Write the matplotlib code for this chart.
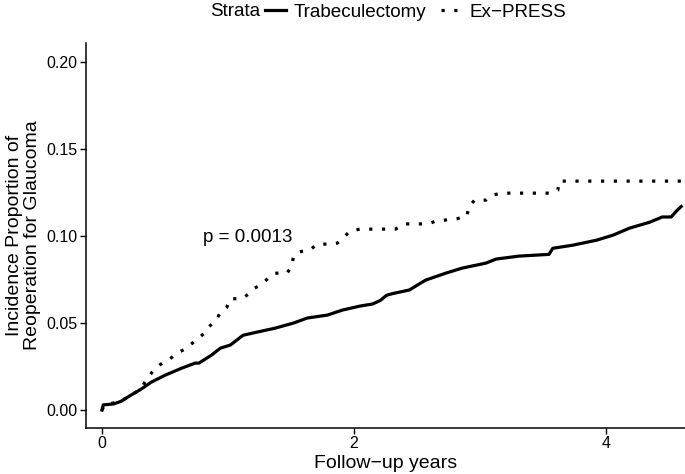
import matplotlib
matplotlib.use("Agg")
import matplotlib.pyplot as plt

plt.rcParams['font.family'] = ['Liberation Sans', 'DejaVu Sans']

# cumulative incidence, vertices
trab_t = [0, 0.01, 0.09, 0.15, 0.23, 0.31, 0.39, 0.5, 0.63, 0.74,
          0.77, 0.87, 0.94, 1.02, 1.12, 1.23, 1.37, 1.52, 1.63, 1.79,
          1.91, 2.05, 2.15, 2.21, 2.26, 2.31, 2.44, 2.57, 2.73, 2.86,
          3.05, 3.13, 3.31, 3.55, 3.58, 3.74, 3.93, 4.06, 4.19, 4.35,
          4.45, 4.52, 4.57, 4.6]
trab_y = [0, 0.003, 0.0035, 0.005, 0.0086, 0.012, 0.016, 0.020, 0.024, 0.027,
          0.027, 0.0316, 0.0356, 0.0374, 0.043, 0.0448, 0.047, 0.050, 0.0529, 0.0546,
          0.0575, 0.0598, 0.061, 0.063, 0.066, 0.067, 0.069, 0.0747, 0.0787, 0.0816,
          0.0845, 0.0868, 0.0885, 0.0895, 0.093, 0.0948, 0.0977, 0.1006, 0.1046, 0.108,
          0.111, 0.111, 0.115, 0.117]

expr_t = [0, 0.02, 0.15, 0.23, 0.31, 0.34, 0.42, 0.48, 0.55, 0.6,
          0.66, 0.71, 0.76, 0.81, 0.85, 0.9, 0.94, 0.99, 1.02, 1.11,
          1.17, 1.21, 1.27, 1.32, 1.37, 1.47, 1.51, 1.52, 1.57, 1.65,
          1.71, 1.83, 1.87, 1.93, 1.97, 2.05, 2.33, 2.4, 2.59, 2.65,
          2.82, 2.9, 2.91, 2.96, 3.05, 3.1, 3.18, 3.56, 3.62, 3.63,
          4.6]
expr_y = [0, 0.003, 0.005, 0.0086, 0.012, 0.016, 0.024, 0.027, 0.030, 0.033,
          0.035, 0.038, 0.041, 0.044, 0.048, 0.051, 0.056, 0.059, 0.064, 0.064,
          0.067, 0.070, 0.0724, 0.0758, 0.0787, 0.0787, 0.083, 0.0885, 0.091, 0.092,
          0.0954, 0.0954, 0.096, 0.100, 0.103, 0.104, 0.104, 0.107, 0.107, 0.1086,
          0.110, 0.1115, 0.1167, 0.1207, 0.1207, 0.1236, 0.1247, 0.1247, 0.1264, 0.1316,
          0.1316]

strata = ["Trabeculectomy", "Ex\u2212PRESS"]
x_ticks = [0, 2, 4]
y_ticks = [0.00, 0.05, 0.10, 0.15, 0.20]
p_text = "p = 0.0013"

fig = plt.figure(figsize=(6.85, 4.74), dpi=100)
ax = fig.add_axes([86 / 685, 1 - 428 / 474, 599 / 685, 385 / 474])

l1, = ax.plot(trab_t, trab_y, color="black", lw=2.3,
              solid_joinstyle="round", label=strata[0])
l2, = ax.plot(expr_t, expr_y, color="black", lw=2.3,
              linestyle=(0, (1, 3)), dash_capstyle="butt", label=strata[1])

ax.text(0.8, 0.099, p_text, fontsize=13.6, va="center", ha="left")

ax.set_xlim(-0.127, 4.63)
ax.set_ylim(-0.0103, 0.211)
ax.set_xticks(x_ticks)
ax.set_yticks(y_ticks)
ax.set_xticklabels([str(v) for v in x_ticks])
ax.set_yticklabels(["%.2f" % v for v in y_ticks])
ax.tick_params(axis="both", direction="out", length=4, width=1, color="black",
               labelsize=11.5, labelcolor="black", pad=2)

for s in ["top", "right"]:
    ax.spines[s].set_visible(False)
for s in ["left", "bottom"]:
    ax.spines[s].set_linewidth(1.1)
    ax.spines[s].set_color("black")

ax.set_xlabel("Follow\u2212up years", fontsize=14, labelpad=3)
ax.set_ylabel("Incidence Proportion of\nReoperation for Glaucoma", fontsize=14,
              labelpad=4, linespacing=1.1)

# legend on top
fig.text(210 / 685, 1 - 12 / 474, "Strata", fontsize=13.6, va="center", ha="left")
fig.legend(handles=[l1, l2], loc="center left", bbox_to_anchor=(265 / 685, 1 - 12 / 474),
           ncol=2, frameon=False, fontsize=13.6, handlelength=1.1, handletextpad=0.4,
           columnspacing=0.8, borderpad=0, borderaxespad=0)

fig.savefig("out.png", dpi=100)
